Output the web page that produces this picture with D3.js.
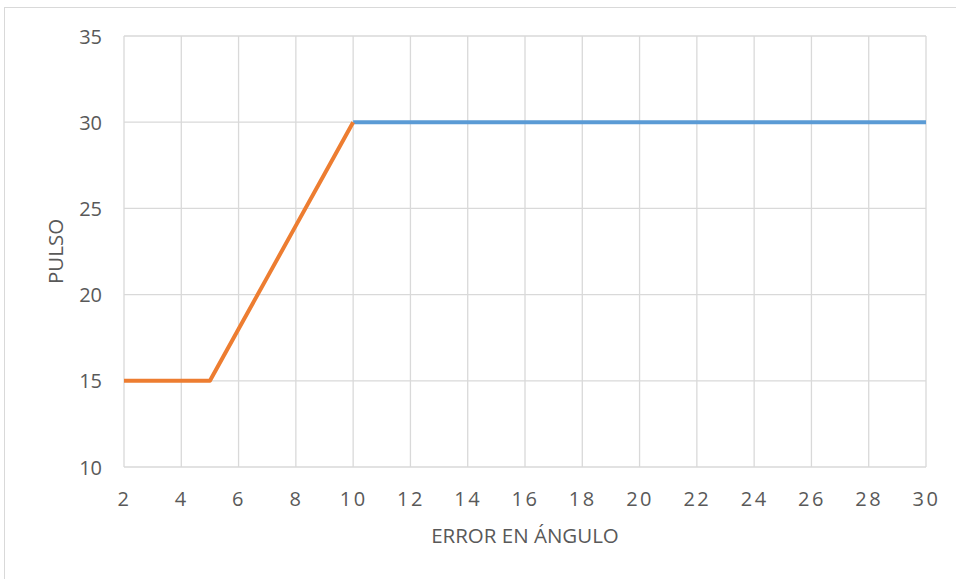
<!DOCTYPE html>
<html>
<head>
<meta charset="utf-8">
<script src="https://cdn.jsdelivr.net/npm/d3@7/dist/d3.min.js"></script>
<style>
html,body{margin:0;padding:0;background:#fff;}
svg{display:block;}
text{font-family:"Open Sans",sans-serif;fill:#595959;}
</style>
</head>
<body>
<script>
// Data
const orangeX = [2, 3, 4, 5, 6, 7, 8, 9, 10];
const orangeY = [15, 15, 15, 15, 18, 21, 24, 27, 30];
const blueX = [10, 12, 14, 16, 18, 20, 22, 24, 26, 28, 30];
const blueY = [30, 30, 30, 30, 30, 30, 30, 30, 30, 30, 30];
const xTicks = [2, 4, 6, 8, 10, 12, 14, 16, 18, 20, 22, 24, 26, 28, 30];
const yTicks = [10, 15, 20, 25, 30, 35];
const xTitle = "ERROR EN ÁNGULO";
const yTitle = "PULSO";

const W = 956, H = 579;
const svg = d3.select("body").append("svg").attr("width", W).attr("height", H);

// outer chart border
svg.append("rect").attr("x", 4.5).attr("y", 7.5).attr("width", 1000).attr("height", 1000)
  .attr("fill", "#fff").attr("stroke", "#d9d9d9").attr("stroke-width", 1);

const x = d3.scaleLinear().domain([2, 30]).range([124, 926]);
const y = d3.scaleLinear().domain([10, 35]).range([467, 36]);

// gridlines
const g = svg.append("g");
g.selectAll("line.v").data(xTicks).join("line")
  .attr("x1", d => x(d)).attr("x2", d => x(d)).attr("y1", y(35)).attr("y2", y(10))
  .attr("stroke", "#d9d9d9").attr("stroke-width", 1.3);
g.selectAll("line.h").data(yTicks).join("line")
  .attr("x1", x(2)).attr("x2", x(30)).attr("y1", d => y(d)).attr("y2", d => y(d))
  .attr("stroke", "#d9d9d9").attr("stroke-width", 1.3);

// axes labels via d3 axes
const xAxis = d3.axisBottom(x).tickValues(xTicks).tickSize(0).tickPadding(0).tickFormat(d3.format("d"));
const xg = svg.append("g").attr("transform", `translate(0,${y(10)})`).call(xAxis);
xg.select(".domain").remove();
xg.selectAll("text").attr("dy", null).attr("y", 39).attr("font-size", 20)
  .style("letter-spacing", "2.5px").attr("fill", "#595959").attr("font-family", "Open Sans, sans-serif");

const yAxis = d3.axisLeft(y).tickValues(yTicks).tickSize(0).tickPadding(0);
const yg = svg.append("g").attr("transform", `translate(${x(2)},0)`).call(yAxis);
yg.select(".domain").remove();
yg.selectAll("text").attr("x", -22).attr("dy", "0.35em").attr("font-size", 20)
  .attr("fill", "#595959").attr("font-family", "Open Sans, sans-serif");

// titles
svg.append("text").attr("x", 525).attr("y", 536).attr("dy", "0.35em")
  .attr("text-anchor", "middle").attr("font-size", 20.5).text(xTitle);
svg.append("text").attr("transform", `translate(56,${(y(10)+y(35))/2}) rotate(-90)`)
  .attr("dy", "0.35em").attr("text-anchor", "middle").attr("font-size", 20.5).text(yTitle);

// lines
const line = d3.line().x(d => x(d[0])).y(d => y(d[1]));
svg.append("path").datum(blueX.map((v, i) => [v, blueY[i]]))
  .attr("d", line).attr("fill", "none").attr("stroke", "#5B9BD5").attr("stroke-width", 4)
  .attr("stroke-linejoin", "round");
svg.append("path").datum(orangeX.map((v, i) => [v, orangeY[i]]))
  .attr("d", line).attr("fill", "none").attr("stroke", "#ED7D31").attr("stroke-width", 4)
  .attr("stroke-linejoin", "round").attr("stroke-linecap", "butt");
</script>
</body>
</html>
